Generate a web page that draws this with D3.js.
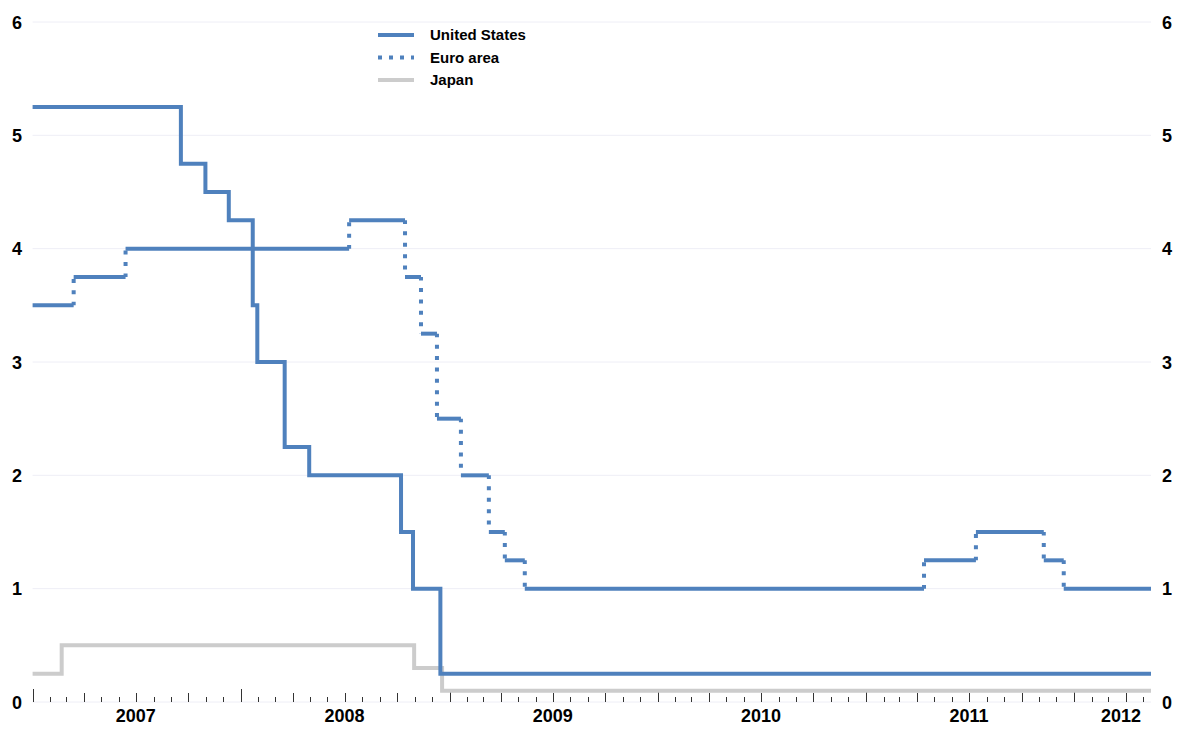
<!DOCTYPE html>
<html>
<head>
<meta charset="utf-8">
<script src="https://cdn.jsdelivr.net/npm/d3@7"></script>
<style>
  html, body { margin: 0; padding: 0; background: #fff; }
  svg { display: block; font-family: "Liberation Sans", Arial, sans-serif; }
</style>
</head>
<body>
<svg id="chart" width="1182" height="729"></svg>
<script>
// ---- Data ----
const startDate = "2007-01-01";
const endDate = "2012-05-15";

const seriesNames = ["United States", "Euro area", "Japan"];

const usDates = ["2007-01-01","2007-09-18","2007-10-31","2007-12-11","2008-01-22","2008-01-30","2008-03-18","2008-04-30","2008-10-08","2008-10-29","2008-12-16"];
const usRates = [5.25, 4.75, 4.50, 4.25, 3.50, 3.00, 2.25, 2.00, 1.50, 1.00, 0.25];

const euroDates = ["2007-01-01","2007-03-14","2007-06-13","2008-07-09","2008-10-15","2008-11-12","2008-12-10","2009-01-21","2009-03-11","2009-04-08","2009-05-13","2011-04-13","2011-07-13","2011-11-09","2011-12-14"];
const euroRates = [3.50, 3.75, 4.00, 4.25, 3.75, 3.25, 2.50, 2.00, 1.50, 1.25, 1.00, 1.25, 1.50, 1.25, 1.00];

const japanDates = ["2007-01-01","2007-02-21","2008-10-31","2008-12-19"];
const japanRates = [0.25, 0.50, 0.30, 0.10];

const yTicks = [0, 1, 2, 3, 4, 5, 6];
const yearLabels = ["2007", "2008", "2009", "2010", "2011", "2012"];

// ---- Setup ----
const parse = d3.utcParse("%Y-%m-%d");
const t0 = parse(startDate), t1 = parse(endDate);
const svg = d3.select("#chart");

const x = d3.scaleUtc().domain([t0, t1]).range([32.6, 1151]);
const y = d3.scaleLinear().domain([0, 6]).range([702, 22]);

const BLUE = "#4f81bd";
const GREY = "#cccccc";

function steps(dates, rates) {
  const pts = dates.map((d, i) => ({ date: parse(d), v: rates[i] }));
  pts.push({ date: t1, v: rates[rates.length - 1] });
  return pts;
}

// gridlines
svg.append("g").selectAll("line").data(yTicks).join("line")
  .attr("x1", x.range()[0]).attr("x2", x.range()[1])
  .attr("y1", d => y(d)).attr("y2", d => y(d))
  .attr("stroke", "#eeeef6").attr("stroke-width", 1);

// y labels left and right
const yl = svg.append("g").attr("font-size", 18).attr("font-weight", "bold").attr("fill", "#000");
yl.selectAll("text.l").data(yTicks).join("text").attr("class", "l")
  .attr("x", 17).attr("y", d => y(d) + 6.5).attr("text-anchor", "middle").text(d => d);
yl.selectAll("text.r").data(yTicks).join("text").attr("class", "r")
  .attr("x", 1167).attr("y", d => y(d) + 6.5).attr("text-anchor", "middle").text(d => d);

// x ticks (monthly)
const months = d3.utcMonth.range(t0, d3.utcMonth.offset(t1, 0)).concat([]);
const tickLen = d => d.getUTCMonth() === 0 ? 13 : (d.getUTCMonth() % 3 === 0 ? 9 : 5);
svg.append("g").selectAll("line").data(months).join("line")
  .attr("x1", d => Math.round(x(d)) + 0.5).attr("x2", d => Math.round(x(d)) + 0.5)
  .attr("y1", y(0)).attr("y2", d => y(0) - tickLen(d))
  .attr("stroke", "#333").attr("stroke-width", 1);

// year labels
svg.append("g").selectAll("text").data(yearLabels).join("text")
  .attr("x", d => Math.min(x(parse(d + "-07-01")), x.range()[1] - 30))
  .attr("y", 722)
  .attr("text-anchor", "middle")
  .attr("font-size", 18).attr("font-weight", "bold").attr("fill", "#000")
  .text(d => d);

const stepLine = d3.line().x(d => x(d.date)).y(d => y(d.v)).curve(d3.curveStepAfter);

// Japan
svg.append("path").datum(steps(japanDates, japanRates))
  .attr("d", stepLine).attr("fill", "none").attr("stroke", GREY).attr("stroke-width", 4);

// Euro area: horizontal parts solid, vertical transitions dotted
const euro = steps(euroDates, euroRates);
const horiz = d3.range(euro.length - 1).map(i => [euro[i], { date: euro[i + 1].date, v: euro[i].v }]);
const verts = d3.range(1, euro.length - 1).map(i => [{ date: euro[i].date, v: euro[i - 1].v }, euro[i]]);
const seg = d3.line().x(d => x(d.date)).y(d => y(d.v));
svg.append("g").selectAll("path").data(horiz).join("path")
  .attr("d", seg).attr("fill", "none").attr("stroke", BLUE).attr("stroke-width", 4);
svg.append("g").selectAll("path").data(verts).join("path")
  .attr("d", seg).attr("fill", "none").attr("stroke", BLUE).attr("stroke-width", 4)
  .attr("stroke-dasharray", "4,7.4").attr("stroke-dashoffset", 0.4);

// United States
svg.append("path").datum(steps(usDates, usRates))
  .attr("d", stepLine).attr("fill", "none").attr("stroke", BLUE).attr("stroke-width", 4);

// Legend
const legend = svg.append("g");
const legendStyles = [
  { stroke: BLUE, dash: null },
  { stroke: BLUE, dash: "4,7" },
  { stroke: GREY, dash: null }
];
const rows = legend.selectAll("g").data(seriesNames).join("g")
  .attr("transform", (d, i) => `translate(0,${35 + i * 22.5})`);
rows.append("line").attr("x1", 378).attr("x2", 414).attr("y1", 0).attr("y2", 0)
  .attr("stroke", (d, i) => legendStyles[i].stroke).attr("stroke-width", 4)
  .attr("stroke-dasharray", (d, i) => legendStyles[i].dash);
rows.append("text").attr("x", 430).attr("y", 0).attr("dy", "0.35em")
  .attr("font-size", 15).attr("font-weight", "bold").attr("fill", "#000")
  .text(d => d);
</script>
</body>
</html>
